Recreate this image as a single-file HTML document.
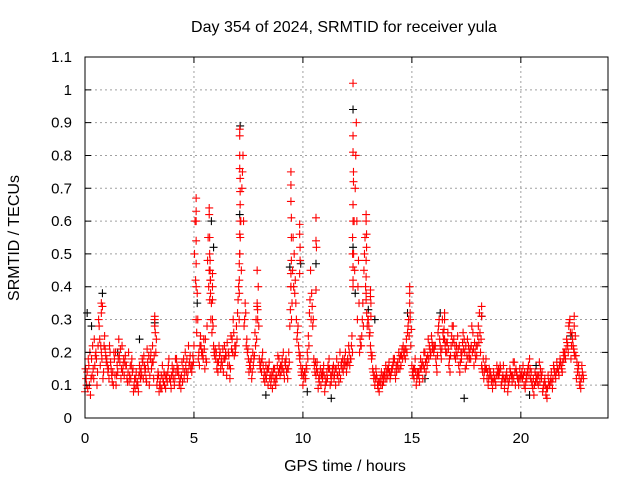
<!DOCTYPE html>
<html><head><meta charset="utf-8"><style>
body{margin:0;background:#fff}
svg text{font-family:"Liberation Sans",sans-serif;font-size:15px;fill:#000}
</style></head><body>
<svg id="chart" width="640" height="480" viewBox="0 0 640 480" xmlns="http://www.w3.org/2000/svg">
<rect width="640" height="480" fill="#fff"/>
<g id="grid"></g>
<g id="marks"></g>
<g id="axes"></g>
<text x="344" y="32" text-anchor="middle" style="font-size:16px">Day 354 of 2024, SRMTID for receiver yula</text>
<text x="345" y="471" text-anchor="middle" style="font-size:16px">GPS time / hours</text>
<text transform="translate(19,238) rotate(-90)" text-anchor="middle" style="font-size:16px">SRMTID / TECUs</text>
</svg>
<script>
const xTicks=[0,5,10,15,20];
const yTicks=[0,0.1,0.2,0.3,0.4,0.5,0.6,0.7,0.8,0.9,1,1.1];
const yTickLabels=["0","0.1","0.2","0.3","0.4","0.5","0.6","0.7","0.8","0.9","1","1.1"];
const seriesAStart=0, seriesAStep=0.1;
const seriesA=[0.08,0.14,0.10,0.18,0.12,0.20,0.22,0.16,0.34,0.25,
0.18,0.12,0.15,0.10,0.20,0.14,0.17,0.22,0.13,0.16,
0.20,0.12,0.15,0.09,0.11,0.16,0.13,0.19,0.12,0.15,
0.18,0.22,0.30,0.10,0.08,0.13,0.11,0.09,0.14,0.12,
0.16,0.10,0.18,0.13,0.09,0.15,0.20,0.12,0.17,0.14,
0.22,0.30,0.18,0.25,0.20,0.15,0.28,0.45,0.35,0.22,
0.18,0.14,0.20,0.16,0.22,0.13,0.19,0.25,0.30,0.20,
0.32,0.50,0.70,0.28,0.22,0.18,0.15,0.20,0.26,0.34,
0.18,0.14,0.12,0.16,0.10,0.13,0.09,0.15,0.12,0.18,
0.14,0.20,0.16,0.12,0.28,0.35,0.50,0.30,0.22,0.16,
0.10,0.14,0.20,0.32,0.38,0.18,0.13,0.09,0.15,0.12,
0.08,0.14,0.18,0.11,0.16,0.10,0.13,0.20,0.15,0.18,
0.14,0.22,0.18,0.40,0.70,0.30,0.20,0.25,0.45,0.36,
0.30,0.22,0.15,0.10,0.12,0.08,0.14,0.11,0.16,0.13,
0.12,0.15,0.18,0.14,0.20,0.16,0.22,0.18,0.26,0.35,
0.16,0.12,0.10,0.14,0.18,0.12,0.20,0.16,0.22,0.25,
0.20,0.18,0.26,0.22,0.30,0.24,0.20,0.16,0.22,0.28,
0.18,0.25,0.14,0.20,0.24,0.16,0.22,0.18,0.26,0.20,
0.22,0.32,0.16,0.12,0.18,0.10,0.14,0.09,0.12,0.16,
0.13,0.10,0.16,0.12,0.08,0.15,0.11,0.17,0.14,0.10,
0.12,0.16,0.09,0.14,0.18,0.11,0.07,0.13,0.10,0.15,
0.08,0.12,0.06,0.10,0.14,0.16,0.12,0.15,0.18,0.14,
0.20,0.24,0.28,0.18,0.22,0.25,0.14,0.10,0.16];
const seriesBStart=0.05, seriesBStep=0.1;
const seriesB=[0.12,0.18,0.07,0.22,0.16,0.10,0.28,0.20,0.14,0.19,
0.14,0.20,0.11,0.18,0.13,0.24,0.12,0.16,0.19,0.11,
0.13,0.18,0.10,0.14,0.08,0.12,0.17,0.14,0.21,0.10,
0.15,0.12,0.20,0.14,0.11,0.16,0.10,0.13,0.18,0.09,
0.12,0.18,0.14,0.11,0.17,0.12,0.14,0.22,0.15,0.19,
0.60,0.38,0.16,0.20,0.24,0.18,0.55,0.42,0.30,0.19,
0.15,0.22,0.17,0.14,0.20,0.16,0.12,0.24,0.19,0.28,
0.40,0.60,0.80,0.35,0.20,0.16,0.12,0.18,0.30,0.40,
0.15,0.20,0.11,0.14,0.17,0.12,0.15,0.10,0.19,0.13,
0.18,0.12,0.14,0.20,0.40,0.55,0.42,0.26,0.18,0.13,
0.12,0.16,0.25,0.45,0.28,0.14,0.17,0.11,0.13,0.16,
0.12,0.16,0.10,0.15,0.13,0.18,0.11,0.16,0.14,0.20,
0.18,0.16,0.25,0.60,0.90,0.48,0.22,0.35,0.55,0.28,
0.25,0.18,0.12,0.15,0.09,0.12,0.10,0.14,0.12,0.17,
0.14,0.18,0.12,0.17,0.15,0.21,0.19,0.24,0.30,0.22,
0.13,0.18,0.14,0.11,0.16,0.20,0.14,0.24,0.19,0.21,
0.22,0.14,0.30,0.18,0.24,0.20,0.26,0.14,0.28,0.19,
0.22,0.16,0.20,0.26,0.15,0.24,0.18,0.28,0.16,0.22,
0.28,0.20,0.14,0.16,0.12,0.15,0.11,0.14,0.10,0.13,
0.16,0.12,0.09,0.14,0.11,0.13,0.17,0.10,0.12,0.15,
0.14,0.10,0.13,0.16,0.12,0.09,0.14,0.11,0.17,0.12,
0.10,0.07,0.13,0.11,0.09,0.14,0.17,0.13,0.16,0.20,
0.18,0.22,0.30,0.26,0.20,0.12,0.16,0.09,0.13];
const seriesCStart=0.025, seriesCStep=0.1;
const seriesC=[0.15,0.09,0.20,0.13,0.24,0.18,0.30,0.22,0.12,0.21,
0.16,0.22,0.13,0.20,0.10,0.18,0.21,0.14,0.17,0.12,
0.11,0.16,0.08,0.12,0.10,0.14,0.18,0.16,0.11,0.19,
0.20,0.17,0.26,0.12,0.10,0.09,0.14,0.12,0.16,0.11,
0.14,0.12,0.16,0.10,0.13,0.18,0.16,0.14,0.19,0.16,
0.50,0.26,0.20,0.22,0.18,0.24,0.48,0.36,0.26,0.20,
0.20,0.17,0.15,0.21,0.18,0.23,0.16,0.21,0.26,0.22,
0.36,0.55,0.75,0.30,0.24,0.14,0.18,0.16,0.22,0.30,
0.16,0.18,0.14,0.12,0.15,0.10,0.13,0.12,0.16,0.15,
0.16,0.14,0.18,0.15,0.33,0.45,0.38,0.24,0.20,0.14,
0.13,0.12,0.18,0.36,0.34,0.16,0.15,0.12,0.10,0.14,
0.10,0.12,0.15,0.13,0.12,0.15,0.16,0.12,0.18,0.16,
0.16,0.20,0.22,0.50,0.80,0.40,0.24,0.30,0.50,0.32,
0.28,0.20,0.14,0.12,0.10,0.11,0.12,0.13,0.14,0.15,
0.13,0.16,0.14,0.16,0.18,0.19,0.20,0.21,0.28,0.30,
0.14,0.15,0.12,0.13,0.15,0.16,0.17,0.19,0.21,0.23,
0.21,0.16,0.28,0.20,0.26,0.22,0.23,0.18,0.25,0.24,
0.20,0.21,0.17,0.23,0.20,0.19,0.20,0.22,0.21,0.18,
0.25,0.26,0.15,0.14,0.15,0.12,0.13,0.11,0.11,0.14,
0.14,0.11,0.12,0.13,0.10,0.14,0.13,0.14,0.13,0.12,
0.13,0.13,0.11,0.15,0.15,0.10,0.10,0.12,0.13,0.13,
0.09,0.10,0.09,0.10,0.11,0.15,0.14,0.14,0.17,0.17,
0.19,0.23,0.29,0.22,0.21,0.19,0.15,0.11,0.14];
const seriesDStart=0.075, seriesDStep=0.1;
const seriesD=[0.10,0.16,0.12,0.15,0.19,0.14,0.24,0.18,0.22,0.17,
0.15,0.17,0.14,0.13,0.16,0.19,0.15,0.18,0.16,0.14,
0.16,0.14,0.12,0.10,0.13,0.15,0.12,0.15,0.17,0.13,
0.17,0.19,0.24,0.13,0.09,0.12,0.13,0.11,0.12,0.13,
0.15,0.14,0.15,0.12,0.11,0.14,0.18,0.16,0.16,0.17,
0.42,0.30,0.22,0.19,0.21,0.17,0.40,0.30,0.28,0.21,
0.17,0.19,0.18,0.18,0.19,0.20,0.15,0.20,0.22,0.24,
0.30,0.45,0.60,0.32,0.21,0.17,0.14,0.19,0.24,0.28,
0.17,0.16,0.13,0.15,0.12,0.14,0.11,0.13,0.14,0.16,
0.15,0.17,0.15,0.17,0.30,0.40,0.35,0.28,0.19,0.15,
0.14,0.15,0.22,0.30,0.30,0.17,0.14,0.13,0.14,0.13,
0.11,0.15,0.13,0.14,0.15,0.13,0.14,0.17,0.16,0.17,
0.17,0.18,0.20,0.45,0.60,0.35,0.22,0.28,0.40,0.30,
0.26,0.19,0.13,0.13,0.11,0.10,0.13,0.12,0.15,0.14,
0.15,0.17,0.16,0.15,0.19,0.18,0.21,0.20,0.25,0.27,
0.15,0.14,0.13,0.15,0.17,0.15,0.18,0.18,0.20,0.22,
0.22,0.19,0.24,0.21,0.27,0.23,0.21,0.19,0.23,0.22,
0.19,0.22,0.18,0.21,0.22,0.18,0.21,0.20,0.23,0.19,
0.23,0.24,0.18,0.15,0.14,0.13,0.12,0.12,0.13,0.15,
0.15,0.13,0.11,0.12,0.12,0.13,0.12,0.15,0.12,0.13,
0.12,0.14,0.12,0.13,0.14,0.12,0.11,0.13,0.11,0.14,
0.11,0.09,0.11,0.12,0.12,0.13,0.15,0.16,0.15,0.18,
0.21,0.20,0.26,0.24,0.19,0.17,0.13,0.12,0.12];
const spikeT=[5.1,5.1,5.1,5.1,5.1,5.1,5.7,5.7,5.72,5.72,5.74,5.74,5.76,5.76,5.85,5.85,5.85,
7.1,7.1,7.1,7.1,7.12,7.12,7.12,7.12,7.1,7.1,7.08,7.08,7.08,7.9,7.9,7.92,
9.45,9.45,9.45,9.47,9.47,9.47,9.45,9.45,9.85,9.85,9.87,9.87,9.85,10.6,10.6,10.62,10.6,
12.3,12.3,12.3,12.32,12.32,12.3,12.3,12.28,12.28,12.3,12.3,12.9,12.9,12.92,12.92,12.9,12.9,12.9,
13.1,13.1,13.12,13.12,14.9,14.9,14.92,0.75,0.75,3.2,3.2,16.5,16.5,18.2,18.2,22.45,22.45];
const spikeV=[0.67,0.63,0.60,0.54,0.47,0.40,0.64,0.62,0.55,0.50,0.48,0.45,0.42,0.38,0.44,0.40,0.36,
0.88,0.86,0.80,0.76,0.73,0.69,0.65,0.60,0.56,0.50,0.47,0.42,0.38,0.45,0.35,0.33,
0.75,0.71,0.66,0.61,0.55,0.48,0.44,0.40,0.59,0.56,0.52,0.48,0.44,0.61,0.54,0.52,0.39,
1.02,0.86,0.81,0.75,0.72,0.65,0.60,0.55,0.50,0.46,0.42,0.62,0.60,0.56,0.52,0.48,0.43,0.38,
0.39,0.37,0.35,0.31,0.40,0.38,0.32,0.35,0.32,0.31,0.28,0.32,0.30,0.34,0.31,0.31,0.28];
const blackT=[0.1,0.3,0.8,3.2,5.15,5.8,5.9,7.1,7.12,9.4,9.9,10.6,10.2,11.3,12.3,12.3,12.4,13.0,13.3,14.8,16.3,17.4,18.2,20.4,20.7,22.3,2.5,8.3,15.6,1.5];
const blackV=[0.32,0.28,0.38,0.29,0.35,0.60,0.52,0.62,0.89,0.46,0.47,0.47,0.08,0.06,0.94,0.52,0.38,0.33,0.30,0.32,0.32,0.06,0.31,0.07,0.16,0.25,0.24,0.07,0.12,0.20];

const X0=85,X1=608,Y0=418,Y1=57,XMAX=24,YMAX=1.1;
const sx=v=>X0+(X1-X0)*v/XMAX;
const sy=v=>Y0-(Y0-Y1)*v/YMAX;
const NS="http://www.w3.org/2000/svg";
function mk(tag,attrs,parent){const e=document.createElementNS(NS,tag);for(const k in attrs)e.setAttribute(k,attrs[k]);parent.appendChild(e);return e;}
const grid=document.getElementById('grid'),axes=document.getElementById('axes'),marks=document.getElementById('marks');
xTicks.forEach(t=>{
  const x=sx(t);
  if(t>0){const g=mk('line',{x1:x,x2:x,y1:Y0,y2:Y1,stroke:'#a0a0a0','stroke-dasharray':'2,3','stroke-width':1},grid);
  
  }
  const tk=mk('path',{d:`M${x},${Y0}v-6M${x},${Y1}v6`,stroke:'#000','stroke-width':1},axes);
  
  
  const tl=mk('text',{x:x,y:Y0+25,'text-anchor':'middle'},axes);tl.textContent=String(t);
  
  
});
yTicks.forEach((t,i)=>{
  const y=sy(t);
  if(i>0&&i<yTicks.length-1){const g=mk('line',{x1:X0,x2:X1,y1:y,y2:y,stroke:'#a0a0a0','stroke-dasharray':'2,3','stroke-width':1},grid);
  
  }
  const tk=mk('path',{d:`M${X0},${y}h6M${X1},${y}h-6`,stroke:'#000','stroke-width':1},axes);
  
  
  const tl=mk('text',{x:X0-13,y:y+5,'text-anchor':'end'},axes);tl.textContent=yTickLabels[i];
  
  
});
const frame=mk('rect',{x:X0,y:Y1,width:X1-X0,height:Y0-Y1,fill:'none',stroke:'#000','stroke-width':1},axes);


function plus(t,v,color,name){
  const x=sx(t),y=sy(v);
  const p=mk('path',{d:`M${x-4},${y}h8M${x},${y-4}v8`,stroke:color,'stroke-width':1.1},marks);
  
  
}
blackT.forEach((t,i)=>plus(t,blackV[i],'#000','black-point'));
seriesA.forEach((v,i)=>plus(seriesAStart+i*seriesAStep,v,'#ff0000','red-point'));
seriesB.forEach((v,i)=>plus(seriesBStart+i*seriesBStep,v,'#ff0000','red-point'));
seriesC.forEach((v,i)=>plus(seriesCStart+i*seriesCStep,v,'#ff0000','red-point'));
seriesD.forEach((v,i)=>plus(seriesDStart+i*seriesDStep,v,'#ff0000','red-point'));
spikeT.forEach((t,i)=>plus(t,spikeV[i],'#ff0000','red-spike-point'));
</script>
</body></html>
